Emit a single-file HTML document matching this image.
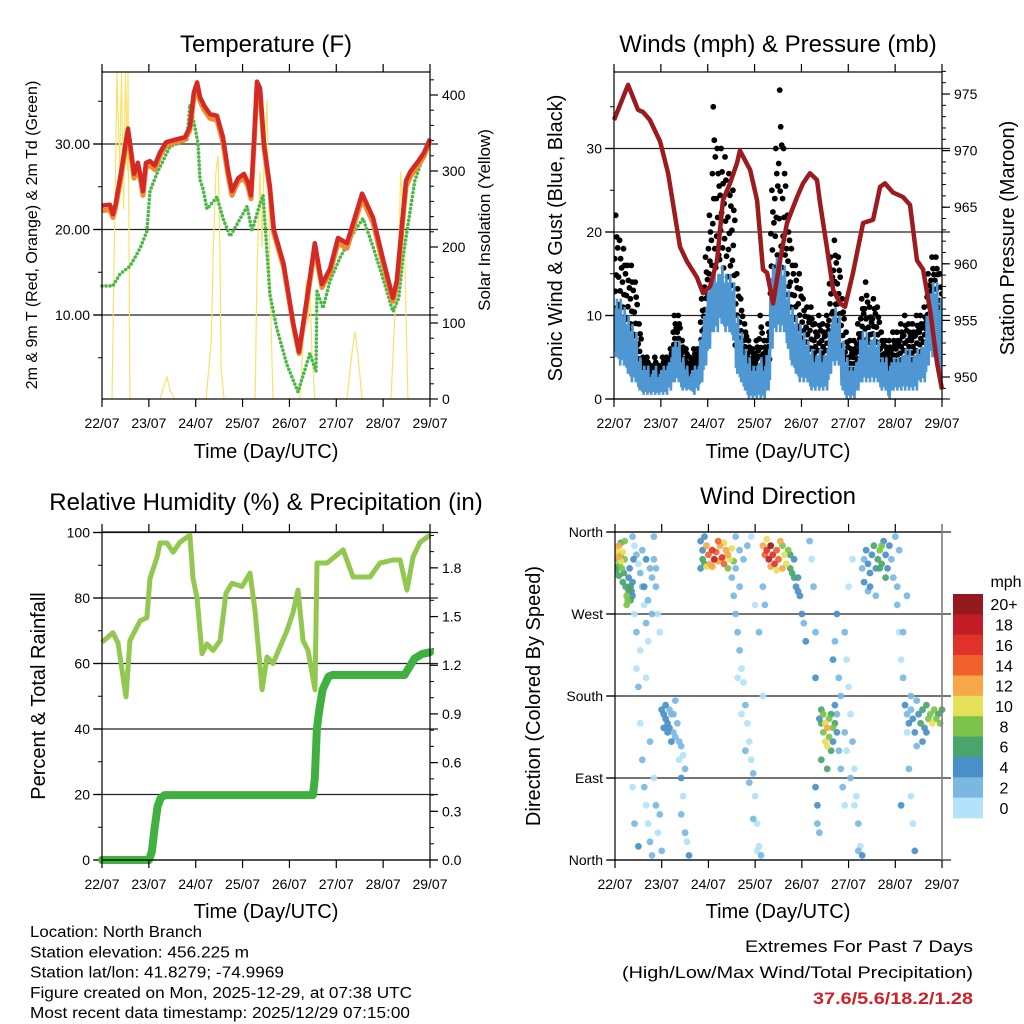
<!DOCTYPE html>
<html><head><meta charset="utf-8"><title>Station Meteogram</title>
<style>
html,body{margin:0;padding:0;background:#fff;}
svg{display:block;font-family:"Liberation Sans",Arial,sans-serif;}
</style></head>
<body>
<svg id="chart" width="1024" height="1024" viewBox="0 0 1024 1024" xmlns="http://www.w3.org/2000/svg">
<rect x="0" y="0" width="1024" height="1024" fill="#fff"/>
</svg>
<script>
// ---------- DATA ----------
const dayLabels = ["22/07","23/07","24/07","25/07","26/07","27/07","28/07","29/07"];
const tHours = [0,4,5.6,7,10,12,13.3,15,16.4,18.4,20,21,22.5,24.6,27,29.7,32.8,37.4,42.5,45,47,48.7,50.2,52.3,55.3,58.9,62,64.5,66.6,69.7,72.7,74.8,76.3,78,79.4,81,83,86,88,93,98,100.9,105,109,112.7,116.8,120.9,125.5,133.2,138.8,143.9,149,151,155.7,158,162,165,168];
const tRed = [22.8,22.9,21.8,23,27,30,31.8,29,26.5,27.8,26,24.5,27.8,28,27.5,29,30.2,30.5,30.8,32,36,37.2,35.5,34.5,33.5,33.3,30.8,27,24.5,26,26.5,25.5,24,31,37.3,36.5,30,25,20,16,9,5.7,12,18.4,13.6,15.4,19,18.4,24.2,21.4,16.6,12,14,25.7,26.8,28,29,30.6];
const tOrange = [22.2,22.3,21.4,22.6,26.5,29.4,31.2,28.4,26,27.2,25.5,24,27.2,27.5,27,28.6,29.8,30.2,30.5,31.6,35.4,36.6,35,34,33,32.8,30.2,26.4,24,25.6,26,25,23.6,30.4,36.8,36,29.5,24.6,19.6,15.6,8.8,5.5,11.6,17.8,13.2,15,18.4,17.8,23.6,20.8,16,11.6,13.6,25,26.2,27.5,28.6,30.3];
const tdHours = [0,5.6,9.2,14.3,19.5,23,24.6,28.2,34.8,43.5,45,47.6,49.2,50.2,51.7,53.8,58.9,62,65.6,69.1,74.3,76.8,80.9,82.5,86,89.6,94.7,100.4,106.5,109.6,110.1,113.2,116.8,121.9,128.5,133.7,138.8,143.9,149,152,154.1,160.2,163,168];
const tdGreen = [13.4,13.4,14.8,15.7,17.8,19.8,24.5,26.6,29.7,30.5,34.6,32,30,25.8,24.8,22.4,23.8,21.3,19.2,20.6,22.7,19.8,23,24,12.4,8.4,4.2,1,5.5,3.4,12.8,10.8,14,16.7,19.5,21.3,18,14.3,10.4,12,16.7,25.7,27.5,30.5];
const solarHours = [0,5.1,7.7,9,10,11,12,13,13.3,14.3,29.7,31.5,33.3,35,37.4,53.3,56,57,58.4,59.4,60.4,61,62.5,78.4,79.4,80.9,81.9,83,84.5,85.5,86.1,87.6,101.4,103,104.5,105.5,106.5,107.5,109,125.5,128,129.5,131,133.2,148,150,151.6,153,155,156.7,168];
const solarVals = [0,0,430,300,430,250,430,300,430,0,0,15,29,10,0,0,78,196,300,320,200,42,0,0,166,300,200,311,393,250,143,0,0,80,156,100,156,60,0,0,60,88,60,0,0,113,150,300,200,0,0];
const windLo = [5,4,4,3, 2,2,1, 0.5,0.5,0.5,0.5,0.5,0.5,0.5,1, 2,2, 1,1,1,0.5,1, 2,4,6, 8,8,9,8,8,7, 3,2,1, 0,0,0,0,0,1, 6,8,8,8,6, 4,3,2,2,2, 1,1,1,1,1, 3,4,4, 1,0,0,0,1, 2,2,2,2,2, 1,1,0,1,1,1, 1,1,1,1,2,2, 4,5,5,3];
const windHi = [12,12,11,10, 9,8,5, 4,4,3,4,3,4,4,5, 7,7, 5,4,3,4,4, 8,11,14, 16,15,16,15,15,14, 10,8,6, 5,4,4,5,4,6, 16,17,17,16,13, 11,10,9,8,7, 6,5,6,5,6, 9,11,10, 7,5,4,4,5, 8,8,7,8,7, 5,5,4,5,5,5, 6,6,5,6,6,7, 11,14,14,12];
const gustLo = [9,8,8,7, 6,5,3, 2,2,2,2,2,2,2,3, 5,5, 3,3,2,3,3, 5,8,12, 15,15,16,15,14,13, 6,5,4, 3,3,3,3,3,4, 12,15,15,15,12, 8,7,6,5,5, 4,4,4,4,4, 9,10,9, 4,2,2,2,3, 6,6,5,6,5, 3,3,3,3,3,4, 4,4,4,4,5,5, 8,10,10,7];
const gustHi = [22,19,18,16, 16,14,9, 5,5,4,5,4,5,5,6, 10,10, 7,6,5,6,6, 12,17,22, 35,30,30,29,27,25, 15,12,9, 7,6,7,10,7,9, 25,30,37,30,22, 18,16,15,12,11, 11,9,10,9,10, 17,19,17, 12,8,7,7,9, 12,14,11,12,11, 8,7,7,8,8,9, 10,9,9,10,10,11, 15,17,17,15];
const presHours = [0,7.2,12.3,14.9,18.4,23.6,27.7,33.8,37.4,42.5,45.6,49.2,52.8,55.8,59.4,63,64.5,69.7,73.3,76.3,78.4,81.5,85,88.6,93.8,96.8,100.4,104,105.5,109,112.2,115.8,118.3,122.4,127.6,132.7,136.3,138.8,142.9,148,151.6,155.2,158.3,161.9,165.5,168];
const presVals = [972.7,975.8,973.6,973.4,972.7,970.8,968,961.5,960.2,958.8,957.4,958,960.3,965.6,967.1,968.9,970,968.3,965.6,959.5,959.2,956.5,960.3,963.6,965.9,967.1,968,967.4,965.4,961.5,957.7,956.5,956.2,959.2,963.6,963.9,966.8,967.1,966.3,965.9,965.2,960.3,959.5,955.9,951.2,948.9];
const rhHours = [0,5.6,8.2,12.3,14.3,19.5,23,24.6,28.2,29.7,33.3,36.4,39.9,45,46.6,48.7,51.2,53.8,56.9,60.5,63.5,66.6,71.7,75.8,78.4,82,84.5,87.6,94.7,97.8,100.4,103,105.5,109.1,110.1,115.3,123.5,128.6,137.3,142.4,149,152.7,156.2,159.3,162.9,168];
const rhVals = [66.5,69.4,66.3,49.8,67,73,74,86,92.5,96.8,96.8,94,97,99.2,86,80,63,66,64,67,81.5,84.5,83.5,87.6,76,52,62,60,70,75.4,82.4,67,64,52,90.7,90.7,94.7,86.4,86.4,90.7,91.6,91.6,82.4,92.5,97,99.2];
const prHours = [0,24,25.5,27,28.5,30,32,108,109,110,111,113,116,118,155,157,160,164,168];
const prVals = [0,0,0.05,0.2,0.33,0.38,0.4,0.4,0.5,0.8,0.9,1.05,1.13,1.14,1.14,1.18,1.24,1.27,1.28];
const dirHours = [0.5,1,1.5,2,2.5,3,3.5,4,4.5,5,1,2,3,4,0.5,5.5,6,6.5,7,6,7.5,5,3,2,
7,8,8.5,9,8,9,7.5,9.5,
9,10,11,12,13,14,15,16,17,11,12,13,14,15,16,17,18,19,20,21,22,23,20,18,19,10,11,13,16,18,20,21,22,24,23,12,10,9,14,15,17,19,16,21,
24,25,26,27,28,29,30,31,32,33,34,35,36,26,27,28,29,25,30,31,33,34,35,36,37,38,34,
44,45,45,46,47,48,49,50,51,52,53,54,55,56,57,58,59,60,61,47,50,53,56,58,44,46,
60,61,62,63,64,65,66,67,68,69,70,71,72,73,74,75,76,77,62,64,66,68,70,72,74,76,63,65,67,69,71,73,62,64,
76,77,78,79,80,81,82,83,84,85,86,87,88,89,90,91,92,93,94,95,96,97,98,80,78,83,86,90,92,94,
100,101,102,103,103,104,104,103,105,105,106,106,107,107,108,108,109,109,110,110,111,111,112,112,113,113,114,114,115,116,117,118,116,118,115,113,114,112,106,109,
118,119,120,121,122,123,124,125,126,119,121,123,125,120,122,127,
127,128,129,130,131,132,133,134,135,136,137,138,139,140,141,142,143,144,145,146,131,134,137,139,128,130,136,
145,146,147,148,149,150,151,152,153,154,148,150,147,
149,150,151,152,153,154,155,156,157,158,159,160,161,162,163,164,165,166,167,168,158,160,155,152];
const dirDeg = [335,340,330,345,325,335,320,338,315,330,322,312,348,305,318,300,290,285,295,280,300,350,328,333,
310,300,295,305,285,290,320,330,
355,345,335,325,315,300,280,260,240,210,190,150,110,80,60,40,20,5,330,300,270,250,355,320,310,270,250,230,200,130,90,60,30,10,50,15,40,80,340,300,285,270,330,320,
165,160,155,150,145,160,140,135,150,130,125,115,100,170,140,165,130,145,160,175,110,90,70,30,20,5,50,
350,340,330,325,345,335,325,340,330,338,328,345,332,325,340,335,330,342,328,322,322,350,348,320,320,355,
310,290,270,250,230,210,195,170,150,130,110,95,70,40,15,5,300,280,320,300,330,345,355,280,250,180,200,160,120,85,45,10,355,340,
345,335,340,330,345,335,325,340,330,350,320,335,325,340,320,315,310,300,295,290,270,260,240,322,352,318,345,335,330,310,
350,330,300,250,200,60,40,80,30,155,150,165,140,160,130,150,145,125,155,135,160,120,145,130,150,170,140,160,120,100,80,60,180,140,200,240,270,220,110,100,
250,220,190,160,130,100,70,40,15,120,90,60,10,300,330,5,
320,330,340,325,315,335,345,320,330,340,325,350,335,320,345,330,310,355,300,340,300,290,345,310,305,295,320,
280,250,220,200,170,140,100,70,40,10,250,290,60,
170,160,150,165,155,140,175,160,150,165,145,170,155,160,150,165,155,160,150,165,130,140,125,180];
const dirSpd = [10,11,9,12,8,9,8,10,7,8,7,6,7,7,6,7,8,9,7,8,6,8,11,12,
5,5,4,5,6,5,4,4,
2,1,2,1,3,2,1,2,1,1,2,1,3,2,1,1,2,3,2,2,1,1,3,3,2,1,2,1,1,2,1,2,1,2,3,4,3,1,3,4,3,3,4,3,
4,5,4,5,4,3,3,3,2,3,2,1,2,4,5,3,4,4,2,2,1,4,1,2,1,4,2,
4,5,6,7,12,14,13,16,18,15,13,12,16,14,13,12,10,11,9,11,12,14,10,8,5,4,
3,2,3,2,3,1,1,2,1,1,1,2,1,1,1,3,2,2,3,2,3,2,1,1,3,1,1,1,2,3,3,1,2,3,
13,14,16,18,20,17,16,15,14,12,13,11,10,8,7,6,7,5,4,4,5,3,4,12,10,11,9,6,5,5,
2,1,3,2,4,4,3,4,3,4,6,7,8,9,10,11,12,10,9,8,7,6,9,5,6,4,4,3,3,2,2,1,2,2,3,3,4,4,6,7,
2,1,1,1,2,1,1,2,1,1,2,1,3,1,1,4,
2,3,4,4,5,5,6,5,7,8,7,5,4,5,4,3,3,2,2,2,4,3,8,6,4,3,6,
2,1,1,2,1,1,2,1,1,4,3,2,4,
4,3,4,3,5,4,3,4,6,7,5,6,8,9,10,8,9,7,8,6,4,5,3,2];
const cbLabels = ["20+","18","16","14","12","10","8","6","4","2","0"];
const cbColors = ["#951a1d","#c01d24","#e0322a","#f0622b","#f6a848","#e6df5a","#7cc24b","#4aa56c","#4a90c8","#7ab8e3","#b4e2f8"];

// ---------- HELPERS ----------
const NS = "http://www.w3.org/2000/svg";
const svg = document.getElementById("chart");
const TICKFONT = 14;
function mk(parent, tag, attrs) {
  const e = document.createElementNS(NS, tag);
  for (const k in attrs) e.setAttribute(k, attrs[k]);
  parent.appendChild(e);
  return e;
}
function txt(parent, x, y, s, size, anchor, extra) {
  const t = mk(parent, "text", Object.assign({x: x, y: y, "font-size": size, "text-anchor": anchor || "middle", fill: "#000"}, extra || {}));
  t.textContent = s;
  return t;
}
function vtxt(parent, x, y, s, size, rot) {
  const t = mk(parent, "text", {x: 0, y: 0, "font-size": size, "text-anchor": "middle", fill: "#000", transform: "translate(" + x + "," + y + ") rotate(" + rot + ")"});
  t.textContent = s;
  return t;
}
function pathFrom(xs, ys) {
  let d = "";
  for (let i = 0; i < xs.length; i++) d += (i ? "L" : "M") + xs[i].toFixed(1) + "," + ys[i].toFixed(1);
  return d;
}
const HRS = 168;
function frame(g, x0, x1, y0, y1, prefix) {
  const dx = (x1 - x0) / 7;
  for (let i = 0; i < 8; i++) {
    const x = x0 + i * dx;
    const tb = mk(g, "line", {x1: x, x2: x, y1: y1, y2: y1 + 8, stroke: "#000", "stroke-width": 1.2});
    
    
    const tt = mk(g, "line", {x1: x, x2: x, y1: y0, y2: y0 - 8, stroke: "#000", "stroke-width": 1.2});
    
    
    const lb = txt(g, x, y1 + 29, dayLabels[i], TICKFONT);
    
    
  }
  const r = mk(g, "rect", {x: x0, y: y0, width: x1 - x0, height: y1 - y0, fill: "none", stroke: "#000", "stroke-width": 1.2});
  
  
}
function yTicks(g, xAxis, side, vals, scale, labels, minor, prefix, grid, gx0, gx1) {
  const dir = side === "left" ? -1 : 1;
  minor.forEach(v => {
    const m = mk(g, "line", {x1: xAxis, x2: xAxis + dir * 4, y1: scale(v), y2: scale(v), stroke: "#000", "stroke-width": 1});
    
    
  });
  vals.forEach((v, i) => {
    const y = scale(v);
    if (grid) {
      const gl = mk(g, "line", {x1: gx0, x2: gx1, y1: y, y2: y, stroke: "#222", "stroke-width": 1.2});
      
      
    }
    const t = mk(g, "line", {x1: xAxis, x2: xAxis + dir * 8, y1: y, y2: y, stroke: "#000", "stroke-width": 1.2});
    
    
    const l = txt(g, xAxis + dir * 12, y + 5, labels[i], TICKFONT, side === "left" ? "end" : "start");
    
    
  });
}
function range(a, b, s) { const r = []; for (let v = a; v <= b + 1e-9; v += s) r.push(+v.toFixed(4)); return r; }

// ---------- PANEL 1 ----------
const p1 = mk(svg, "g", {});


const X1a = 102, X1b = 430, Y1a = 72, Y1b = 399;
const sx1 = h => X1a + h * (X1b - X1a) / HRS;
const yT = v => 400.5 - v * 8.55;
const yS = v => 399 - v * 0.76;
const clip1 = mk(svg, "clipPath", {id: "clip1"});
mk(clip1, "rect", {x: X1a, y: Y1a, width: X1b - X1a, height: Y1b - Y1a});
yTicks(p1, X1a, "left", [10, 20, 30], yT, ["10.00", "20.00", "30.00"], range(5, 35, 5), "temp-left-axis", true, X1a - 9, X1b + 8);
yTicks(p1, X1b, "right", [0, 100, 200, 300, 400], yS, ["0", "100", "200", "300", "400"], range(20, 420, 20), "solar-right-axis", false);
const sol = mk(p1, "path", {d: pathFrom(solarHours.map(sx1), solarVals.map(yS)), fill: "none", stroke: "#f9e26a", "stroke-width": 1.2, "clip-path": "url(#clip1)"});


const tdl = mk(p1, "path", {d: pathFrom(tdHours.map(sx1), tdGreen.map(yT)), fill: "none", stroke: "#4cb848", "stroke-width": 3.6, "stroke-dasharray": "0 4", "stroke-linecap": "round", "stroke-linejoin": "round"});


const orl = mk(p1, "path", {d: pathFrom(tHours.map(sx1), tOrange.map(yT)), fill: "none", stroke: "#f08a30", "stroke-width": 5, "stroke-linejoin": "round"});


const rdl = mk(p1, "path", {d: pathFrom(tHours.map(sx1), tRed.map(yT)), fill: "none", stroke: "#d42a26", "stroke-width": 4.5, "stroke-linejoin": "round"});


frame(p1, X1a, X1b, Y1a, Y1b, "temp");
const t1 = txt(p1, 266, 52, "Temperature (F)", 24);


const xt1 = txt(p1, 266, 458, "Time (Day/UTC)", 20);


const yl1 = vtxt(p1, 37, 235, "2m & 9m T (Red, Orange) & 2m Td (Green)", 16, -90);


const yr1 = vtxt(p1, 490, 220, "Solar Insolation (Yellow)", 17, -90);



// ---------- PANEL 2 ----------
const p2 = mk(svg, "g", {});


const X2a = 614, X2b = 942, Y2a = 72, Y2b = 399;
const sx2 = h => X2a + h * (X2b - X2a) / HRS;
const yW = v => 399 - v * 8.35;
const yP = p => 377 - (p - 950) * 11.32;
const clip2 = mk(svg, "clipPath", {id: "clip2"});
mk(clip2, "rect", {x: X2a, y: Y2a, width: X2b - X2a, height: Y2b - Y2a});
yTicks(p2, X2a, "left", [0, 10, 20, 30], yW, ["0", "10", "20", "30"], range(5, 35, 5), "wind-left-axis", true, X2a - 9, X2b + 8);
yTicks(p2, X2b, "right", [950, 955, 960, 965, 970, 975], yP, ["950", "955", "960", "965", "970", "975"], range(949, 977, 1), "pressure-right-axis", false);
const gustG = mk(p2, "g", {"clip-path": "url(#clip2)"});


const gfr = [0.05, 0.6, 0.3, 1.0, 0.45, 0.8, 0.15, 0.7];
for (let i = 0; i < gustHi.length; i++) {
  for (let k = 0; k < gfr.length; k++) {
    const h = 2 * i + (k + 0.5) * 2 / gfr.length;
    const v = gustLo[i] + (gustHi[i] - gustLo[i]) * gfr[k];
    const c = mk(gustG, "circle", {cx: sx2(h).toFixed(1), cy: yW(v).toFixed(1), r: 2.9, fill: "#000"});
    
    
  }
}
const wfr = [0.85, 0.1, 0.7, 0.0, 1.0, 0.25];
const wx = [], wy = [];
for (let i = 0; i < windHi.length; i++) {
  for (let k = 0; k < wfr.length; k++) {
    wx.push(sx2(2 * i + (k + 0.5) * 2 / wfr.length));
    wy.push(yW(windLo[i] + (windHi[i] - windLo[i]) * wfr[k]));
  }
}
const wl = mk(p2, "path", {d: pathFrom(wx, wy), fill: "none", stroke: "#4f97d2", "stroke-width": 2.6, "clip-path": "url(#clip2)"});


const pl = mk(p2, "path", {d: pathFrom(presHours.map(sx2), presVals.map(yP)), fill: "none", stroke: "#9b1b1e", "stroke-width": 4.5, "stroke-linejoin": "round"});


frame(p2, X2a, X2b, Y2a, Y2b, "wind");
const t2 = txt(p2, 778, 52, "Winds (mph) & Pressure (mb)", 24);


const xt2 = txt(p2, 778, 458, "Time (Day/UTC)", 20);


const yl2 = vtxt(p2, 562, 238, "Sonic Wind & Gust (Blue, Black)", 20, -90);


const yr2 = vtxt(p2, 1014, 238, "Station Pressure (Maroon)", 20, -90);



// ---------- PANEL 3 ----------
const p3 = mk(svg, "g", {});


const X3a = 102, X3b = 430, Y3a = 532, Y3b = 860;
const sx3 = h => X3a + h * (X3b - X3a) / HRS;
const yRH = v => 860 - v * 3.275;
const yPr = p => 860 - p * 162.3;
yTicks(p3, X3a, "left", [0, 20, 40, 60, 80, 100], yRH, ["0", "20", "40", "60", "80", "100"], range(10, 90, 20), "rh-left-axis", true, X3a - 9, X3b + 8);
yTicks(p3, X3b, "right", [0, 0.3, 0.6, 0.9, 1.2, 1.5, 1.8], yPr, ["0.0", "0.3", "0.6", "0.9", "1.2", "1.5", "1.8"], range(0.1, 2.0, 0.1), "precip-right-axis", false);
const rhl = mk(p3, "path", {d: pathFrom(rhHours.map(sx3), rhVals.map(yRH)), fill: "none", stroke: "#92c850", "stroke-width": 5, "stroke-linejoin": "round"});


const prl = mk(p3, "path", {d: pathFrom(prHours.map(sx3), prVals.map(yPr)), fill: "none", stroke: "#40b040", "stroke-width": 8, "stroke-linejoin": "round", "stroke-linecap": "round"});


frame(p3, X3a, X3b, Y3a, Y3b, "rh");
const t3 = txt(p3, 266, 510, "Relative Humidity (%) & Precipitation (in)", 24);


const xt3 = txt(p3, 266, 918, "Time (Day/UTC)", 20);


const yl3 = vtxt(p3, 45, 696, "Percent & Total Rainfall", 20, -90);



// ---------- PANEL 4 ----------
const p4 = mk(svg, "g", {});


const X4a = 615, X4b = 942, Y4a = 532, Y4b = 860;
const sx4 = h => X4a + h * (X4b - X4a) / HRS;
const yD = d => 860 - d * (Y4b - Y4a) / 360;
const clip4 = mk(svg, "clipPath", {id: "clip4"});
mk(clip4, "rect", {x: X4a, y: Y4a - 4, width: X4b - X4a + 4, height: Y4b - Y4a + 8});
yTicks(p4, X4a, "left", [0, 90, 180, 270, 360], yD, ["North", "East", "South", "West", "North"], [], "direction-axis", true, X4a - 9, X4b + 9);
function spdColor(s) { let b = Math.floor(s / 2); if (b > 10) b = 10; if (b < 0) b = 0; return cbColors[10 - b]; }
const dg = mk(p4, "g", {"clip-path": "url(#clip4)"});


const order = dirSpd.map((s, i) => i).sort((a, b) => dirSpd[a] - dirSpd[b]);
order.forEach(i => {
  const c = mk(dg, "circle", {cx: sx4(dirHours[i]).toFixed(1), cy: yD(dirDeg[i]).toFixed(1), r: 3.4, fill: spdColor(dirSpd[i]), "fill-opacity": 0.92});
  
  
});
frame(p4, X4a, X4b, Y4a, Y4b, "dir");
const rb = mk(p4, "line", {x1: X4b, x2: X4b, y1: Y4a - 8, y2: Y4b, stroke: "#888", "stroke-width": 1.6});


const t4 = txt(p4, 778, 504, "Wind Direction", 24);


const xt4 = txt(p4, 778, 918, "Time (Day/UTC)", 20);


const yl4 = vtxt(p4, 540, 696, "Direction (Colored By Speed)", 20, -90);


const cb = mk(svg, "g", {});


const cbTop = 594, cbH = 224 / cbLabels.length;
cbLabels.forEach((l, i) => {
  const r = mk(cb, "rect", {x: 953, y: (cbTop + i * cbH).toFixed(1), width: 30, height: (cbH + 0.3).toFixed(1), fill: cbColors[i]});
  
  
  const t = txt(cb, 1004, cbTop + i * cbH + cbH / 2 + 6, l, 16);
  
  
});
const mph = txt(cb, 1006, 587, "mph", 16);



// ---------- FOOTER ----------
const ft = mk(svg, "g", {});


const info = ["Location: North Branch", "Station elevation: 456.225 m", "Station lat/lon: 41.8279; -74.9969", "Figure created on Mon, 2025-12-29, at 07:38 UTC", "Most recent data timestamp: 2025/12/29 07:15:00"];
const infoW = [172, 219, 254, 382, 380];
info.forEach((s, i) => {
  const t = txt(ft, 30, 937 + i * 20.3, s, 15.5, "start", {textLength: infoW[i], lengthAdjust: "spacingAndGlyphs"});
  
  
});
const ex = mk(svg, "g", {});


const e1 = txt(ex, 973, 952, "Extremes For Past 7 Days", 17, "end", {textLength: 228, lengthAdjust: "spacingAndGlyphs"});


const e2 = txt(ex, 973, 978, "(High/Low/Max Wind/Total Precipitation)", 17, "end", {textLength: 351, lengthAdjust: "spacingAndGlyphs"});


const e3 = txt(ex, 973, 1004, "37.6/5.6/18.2/1.28", 17, "end", {fill: "#cc2129", "font-weight": "bold", textLength: 160, lengthAdjust: "spacingAndGlyphs"});


</script>
</body></html>
